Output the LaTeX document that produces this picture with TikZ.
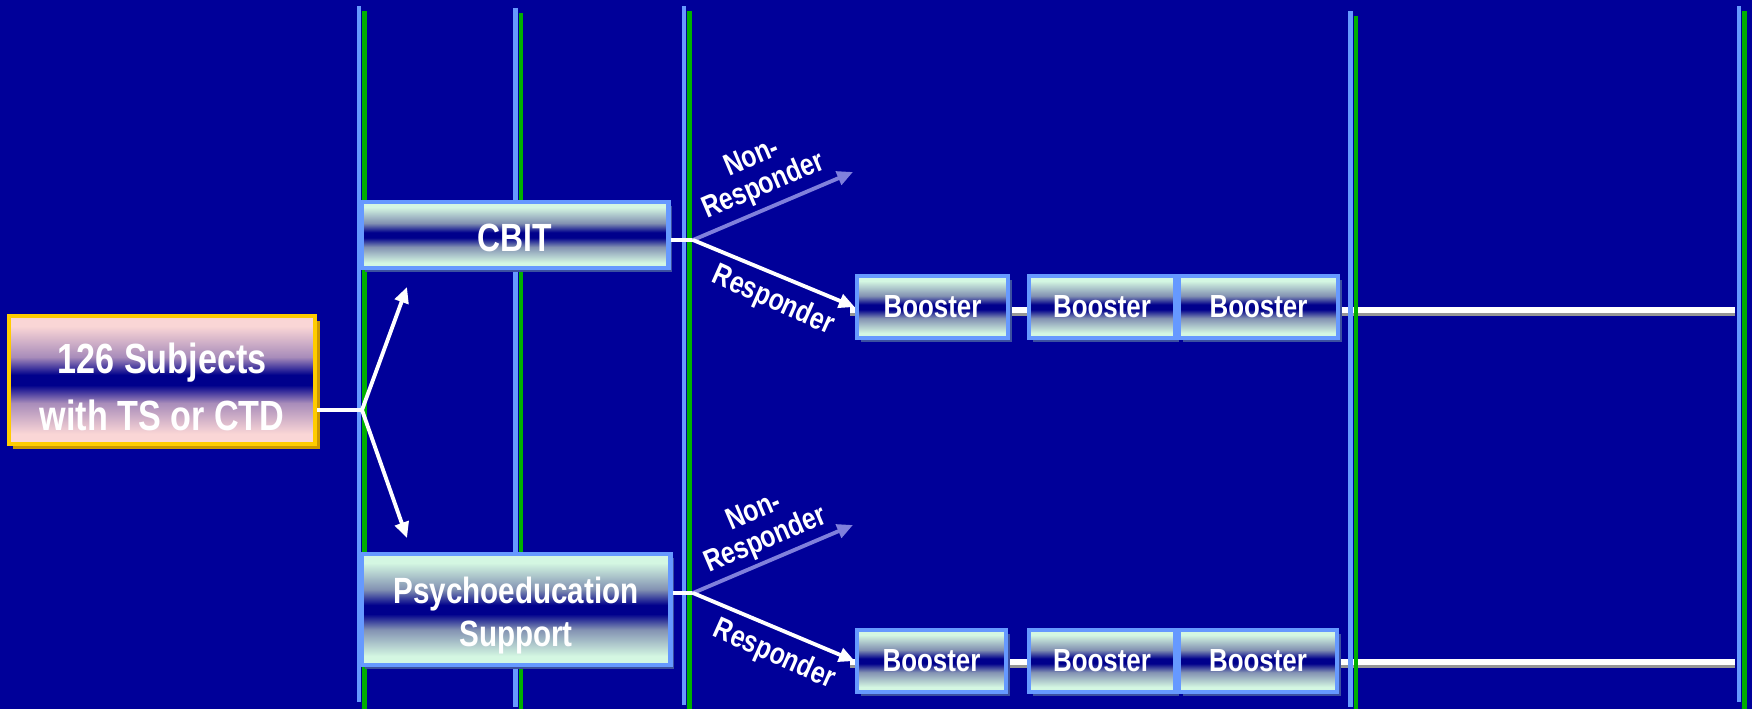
\documentclass[tikz,border=0pt]{standalone}
\usepackage{fontspec}
\setmainfont{Liberation Sans}[FakeStretch=0.81]
\usetikzlibrary{arrows.meta,shadows}
\definecolor{slidebg}{RGB}{0,0,153}
\definecolor{phaseblue}{RGB}{102,153,255}
\definecolor{phasegreen}{RGB}{0,176,0}
\definecolor{mintlight}{RGB}{212,247,226}
\definecolor{mintmid}{RGB}{130,145,178}
\definecolor{boxnavy}{RGB}{0,0,140}
\definecolor{pinklight}{RGB}{250,214,214}
\definecolor{pinkmid}{RGB}{168,140,186}
\definecolor{goldrim}{RGB}{255,204,0}
\definecolor{goldshadow}{RGB}{204,153,0}
\definecolor{boxshadow}{RGB}{60,80,160}
\definecolor{nonresp}{RGB}{128,128,220}
\definecolor{trackgrey}{RGB}{150,150,150}

% cylinder-like fades: light rim, dark band in the middle
\pgfdeclareverticalshading{mintfade}{100bp}{color(0bp)=(mintlight); color(29bp)=(mintlight);
  color(41bp)=(mintmid); color(48bp)=(boxnavy); color(52bp)=(boxnavy); color(59bp)=(mintmid);
  color(71bp)=(mintlight); color(100bp)=(mintlight)}
\pgfdeclareverticalshading{pinkfade}{100bp}{color(0bp)=(pinklight); color(29bp)=(pinklight);
  color(41bp)=(pinkmid); color(48bp)=(boxnavy); color(52bp)=(boxnavy); color(59bp)=(pinkmid);
  color(71bp)=(pinklight); color(100bp)=(pinklight)}

\begin{document}
\begin{tikzpicture}[font=\bfseries, text=white,
  armbox/.style={draw=phaseblue, line width=1.3pt, shade, shading=mintfade, inner sep=0pt, align=center,
    drop shadow={shadow xshift=0.035cm, shadow yshift=-0.035cm, fill=boxshadow, opacity=1}},
  boostbox/.style={armbox, minimum height=0.62cm, font=\bfseries\fontsize{9.1}{10}\selectfont},
  subjbox/.style={draw=goldrim, line width=1.3pt, shade, shading=pinkfade, inner sep=0pt, align=center,
    drop shadow={shadow xshift=0.045cm, shadow yshift=-0.045cm, fill=goldshadow, opacity=1}},
  bluebar/.style={phaseblue, line width=1.3pt},
  greenbar/.style={phasegreen, line width=1.4pt},
  track/.style={white, line width=0.06cm,
    preaction={draw=trackgrey, line width=0.06cm, transform canvas={yshift=-0.03cm}}},
  link/.style={white, line width=1.1pt},
  arr/.style={link, -{Triangle[length=4.5pt,width=4pt]}},
  lbl/.style={align=center, inner sep=0pt, font=\bfseries\fontsize{8.7}{8.6}\selectfont}]
  \useasboundingbox (0,0) rectangle (17.52,7.09);
  \fill[slidebg] (0,0) rectangle (17.52,7.09);

  % booster tracks running to the end of follow-up
  \coordinate (trk1a) at (8.50,3.99);
  \coordinate (trk1b) at (17.35,3.99);
  \coordinate (trk2a) at (8.50,0.47);
  \coordinate (trk2b) at (17.35,0.47);
  \draw[track] (trk1a) -- (trk1b);
  \draw[track] (trk2a) -- (trk2b);

  % time points: blue and green pair
  \foreach \xb/\tb/\bb/\tg in {3.59/7.03/0.07/6.98, 5.155/7.01/0.02/6.96, 6.84/7.03/0.04/6.98,
                               13.505/6.98/0.02/6.93, 17.39/7.03/0.07/6.98} {
    \draw[bluebar] (\xb,\bb) -- (\xb,\tb);
    \draw[greenbar] (\xb+0.055,0) -- (\xb+0.055,\tg);
  }

  % the struts push the two-line texts a little lower
  \node[subjbox, minimum width=3.06cm, minimum height=1.28cm,
        font=\bfseries\fontsize{12}{16.2}\selectfont] (subj) at (1.62,3.29)
        {\rule{0pt}{12.5pt}126 Subjects\\with TS or CTD};
  \node[armbox, minimum width=3.07cm, minimum height=0.66cm,
        font=\bfseries\fontsize{11.2}{12}\selectfont] (cbit) at (5.15,4.74) {\rule{0pt}{9.4pt}CBIT};
  \node[armbox, minimum width=3.09cm, minimum height=1.11cm,
        font=\bfseries\fontsize{10.4}{12.2}\selectfont] (psych) at (5.16,0.995)
        {\rule{0pt}{10.8pt}Psychoeducation\\Support};

  % boosters
  \node[boostbox, minimum width=1.51cm] (b11) at (9.325,4.02) {Booster};
  \node[boostbox, minimum width=1.46cm] (b12) at (11.02,4.02) {Booster};
  \node[boostbox, minimum width=1.59cm] (b13) at (12.585,4.02) {Booster};
  \node[boostbox, minimum width=1.49cm] (b21) at (9.315,0.48) {Booster};
  \node[boostbox, minimum width=1.46cm] (b22) at (11.02,0.48) {Booster};
  \node[boostbox, minimum width=1.58cm] (b23) at (12.58,0.48) {Booster};

  % randomisation
  \coordinate (fork0) at (3.62,2.99);
  \coordinate (upTip) at (4.07,4.22);
  \coordinate (downTip) at (4.07,1.71);
  \draw[link] (subj.east |- fork0) -- (fork0);
  \draw[arr] (fork0) -- (upTip);
  \draw[arr] (fork0) -- (downTip);

  % response after acute treatment
  \coordinate (fork1) at (6.93,4.69);
  \coordinate (nr1) at (8.53,5.37);
  \draw[link] (cbit.east |- fork1) -- (fork1);
  \draw[arr, nonresp] (fork1) -- (nr1);
  \draw[arr] (fork1) -- (b11.west);
  \coordinate (fork2) at (6.93,1.16);
  \coordinate (nr2) at (8.53,1.84);
  \draw[link] (psych.east |- fork2) -- (fork2);
  \draw[arr, nonresp] (fork2) -- (nr2);
  \draw[arr] (fork2) -- (b21.west);

  \node[lbl, rotate=23] (nrlab1) at (7.58,5.36) {Non-\\Responder};
  \node[lbl, rotate=-24] (rlab1) at (7.73,4.08) {Responder};
  \node[lbl, rotate=23] (nrlab2) at (7.60,1.82) {Non-\\Responder};
  \node[lbl, rotate=-24] (rlab2) at (7.74,0.54) {Responder};
\end{tikzpicture}
\end{document}
